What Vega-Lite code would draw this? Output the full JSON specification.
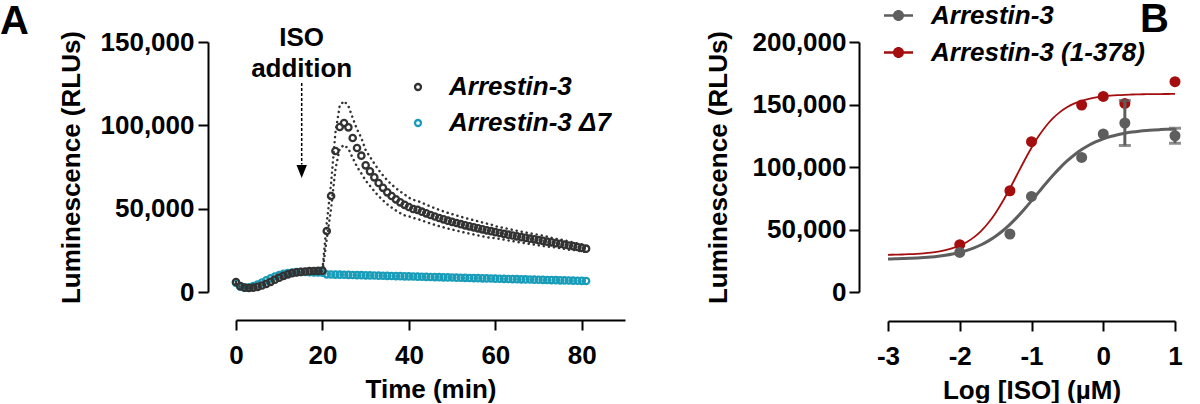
{
  "$schema": "https://vega.github.io/schema/vega-lite/v6.json",
  "background": "white",
  "padding": 0,
  "spacing": 80,
  "resolve": {"scale": {"color": "independent", "x": "independent", "y": "independent"}, "legend": {"color": "independent"}},
  "config": {
    "font": "Liberation Sans",
    "view": {"stroke": null},
    "axis": {
      "grid": false,
      "domainColor": "black",
      "domainWidth": 2,
      "tickColor": "black",
      "tickWidth": 2,
      "tickSize": 10,
      "labelFont": "Liberation Sans",
      "labelFontSize": 26,
      "labelFontWeight": "bold",
      "labelColor": "black",
      "labelFlush": false,
      "labelOverlap": false,
      "titleFont": "Liberation Sans",
      "titleFontSize": 26,
      "titleFontWeight": "bold",
      "titleColor": "black"
    },
    "legend": {
      "labelFont": "Liberation Sans",
      "labelFontSize": 26,
      "labelFontWeight": "bold",
      "labelFontStyle": "italic",
      "labelColor": "black",
      "labelLimit": 400,
      "padding": 0
    },
    "title": {"font": "Liberation Sans", "color": "black"}
  },
  "datasets": {
    "timecourse": [
      {"t":0,"s":"Arrestin-3 Δ7","v":5500},{"t":1,"s":"Arrestin-3 Δ7","v":3200},{"t":2,"s":"Arrestin-3 Δ7","v":2600},{"t":3,"s":"Arrestin-3 Δ7","v":2800},{"t":4,"s":"Arrestin-3 Δ7","v":3500},{"t":5,"s":"Arrestin-3 Δ7","v":4500},{"t":6,"s":"Arrestin-3 Δ7","v":5700},{"t":7,"s":"Arrestin-3 Δ7","v":7000},{"t":8,"s":"Arrestin-3 Δ7","v":8200},{"t":9,"s":"Arrestin-3 Δ7","v":9300},{"t":10,"s":"Arrestin-3 Δ7","v":10200},{"t":11,"s":"Arrestin-3 Δ7","v":10900},{"t":12,"s":"Arrestin-3 Δ7","v":11400},{"t":13,"s":"Arrestin-3 Δ7","v":11700},{"t":14,"s":"Arrestin-3 Δ7","v":11900},{"t":15,"s":"Arrestin-3 Δ7","v":12000},{"t":16,"s":"Arrestin-3 Δ7","v":12000},{"t":17,"s":"Arrestin-3 Δ7","v":11900},{"t":18,"s":"Arrestin-3 Δ7","v":11800},{"t":19,"s":"Arrestin-3 Δ7","v":11700},{"t":20,"s":"Arrestin-3 Δ7","v":11600},
      {"t":21,"s":"Arrestin-3 Δ7","v":10600},{"t":22,"s":"Arrestin-3 Δ7","v":10500},{"t":23,"s":"Arrestin-3 Δ7","v":10450},{"t":24,"s":"Arrestin-3 Δ7","v":10400},{"t":25,"s":"Arrestin-3 Δ7","v":10350},{"t":26,"s":"Arrestin-3 Δ7","v":10300},{"t":27,"s":"Arrestin-3 Δ7","v":10200},{"t":28,"s":"Arrestin-3 Δ7","v":10150},{"t":29,"s":"Arrestin-3 Δ7","v":10100},{"t":30,"s":"Arrestin-3 Δ7","v":10000},{"t":31,"s":"Arrestin-3 Δ7","v":9950},{"t":32,"s":"Arrestin-3 Δ7","v":9900},{"t":33,"s":"Arrestin-3 Δ7","v":9800},{"t":34,"s":"Arrestin-3 Δ7","v":9750},{"t":35,"s":"Arrestin-3 Δ7","v":9700},{"t":36,"s":"Arrestin-3 Δ7","v":9600},{"t":37,"s":"Arrestin-3 Δ7","v":9550},{"t":38,"s":"Arrestin-3 Δ7","v":9500},{"t":39,"s":"Arrestin-3 Δ7","v":9400},{"t":40,"s":"Arrestin-3 Δ7","v":9350},{"t":41,"s":"Arrestin-3 Δ7","v":9300},{"t":42,"s":"Arrestin-3 Δ7","v":9200},{"t":43,"s":"Arrestin-3 Δ7","v":9150},{"t":44,"s":"Arrestin-3 Δ7","v":9100},{"t":45,"s":"Arrestin-3 Δ7","v":9000},{"t":46,"s":"Arrestin-3 Δ7","v":8950},{"t":47,"s":"Arrestin-3 Δ7","v":8900},{"t":48,"s":"Arrestin-3 Δ7","v":8800},{"t":49,"s":"Arrestin-3 Δ7","v":8750},{"t":50,"s":"Arrestin-3 Δ7","v":8700},{"t":51,"s":"Arrestin-3 Δ7","v":8600},{"t":52,"s":"Arrestin-3 Δ7","v":8550},{"t":53,"s":"Arrestin-3 Δ7","v":8500},{"t":54,"s":"Arrestin-3 Δ7","v":8400},{"t":55,"s":"Arrestin-3 Δ7","v":8350},{"t":56,"s":"Arrestin-3 Δ7","v":8300},{"t":57,"s":"Arrestin-3 Δ7","v":8200},{"t":58,"s":"Arrestin-3 Δ7","v":8150},{"t":59,"s":"Arrestin-3 Δ7","v":8100},{"t":60,"s":"Arrestin-3 Δ7","v":8000},{"t":61,"s":"Arrestin-3 Δ7","v":7950},{"t":62,"s":"Arrestin-3 Δ7","v":7900},{"t":63,"s":"Arrestin-3 Δ7","v":7800},{"t":64,"s":"Arrestin-3 Δ7","v":7750},{"t":65,"s":"Arrestin-3 Δ7","v":7700},{"t":66,"s":"Arrestin-3 Δ7","v":7600},{"t":67,"s":"Arrestin-3 Δ7","v":7550},{"t":68,"s":"Arrestin-3 Δ7","v":7500},{"t":69,"s":"Arrestin-3 Δ7","v":7400},{"t":70,"s":"Arrestin-3 Δ7","v":7350},{"t":71,"s":"Arrestin-3 Δ7","v":7300},{"t":72,"s":"Arrestin-3 Δ7","v":7200},{"t":73,"s":"Arrestin-3 Δ7","v":7150},{"t":74,"s":"Arrestin-3 Δ7","v":7100},{"t":75,"s":"Arrestin-3 Δ7","v":7000},{"t":76,"s":"Arrestin-3 Δ7","v":6950},{"t":77,"s":"Arrestin-3 Δ7","v":6900},{"t":78,"s":"Arrestin-3 Δ7","v":6800},{"t":79,"s":"Arrestin-3 Δ7","v":6750},{"t":80,"s":"Arrestin-3 Δ7","v":6700},{"t":81,"s":"Arrestin-3 Δ7","v":6600},
      {"t":0,"s":"Arrestin-3","v":6000,"lo":5400,"hi":6600},{"t":1,"s":"Arrestin-3","v":3500,"lo":2900,"hi":4100},{"t":2,"s":"Arrestin-3","v":2600,"lo":2000,"hi":3200},{"t":3,"s":"Arrestin-3","v":2400,"lo":1800,"hi":3000},{"t":4,"s":"Arrestin-3","v":2600,"lo":2000,"hi":3200},{"t":5,"s":"Arrestin-3","v":3100,"lo":2500,"hi":3700},{"t":6,"s":"Arrestin-3","v":3900,"lo":3300,"hi":4500},{"t":7,"s":"Arrestin-3","v":4900,"lo":4300,"hi":5500},{"t":8,"s":"Arrestin-3","v":6100,"lo":5500,"hi":6700},{"t":9,"s":"Arrestin-3","v":7400,"lo":6800,"hi":8000},{"t":10,"s":"Arrestin-3","v":8600,"lo":8000,"hi":9200},{"t":11,"s":"Arrestin-3","v":9700,"lo":9100,"hi":10300},{"t":12,"s":"Arrestin-3","v":10600,"lo":10000,"hi":11200},{"t":13,"s":"Arrestin-3","v":11300,"lo":10700,"hi":11900},{"t":14,"s":"Arrestin-3","v":11800,"lo":11200,"hi":12400},{"t":15,"s":"Arrestin-3","v":12100,"lo":11500,"hi":12700},{"t":16,"s":"Arrestin-3","v":12300,"lo":11700,"hi":12900},{"t":17,"s":"Arrestin-3","v":12500,"lo":11900,"hi":13100},{"t":18,"s":"Arrestin-3","v":12600,"lo":12000,"hi":13200},{"t":19,"s":"Arrestin-3","v":12700,"lo":12100,"hi":13300},{"t":20,"s":"Arrestin-3","v":12800,"lo":12200,"hi":13400},
      {"t":21,"s":"Arrestin-3","v":36600,"lo":31840,"hi":41360},{"t":22,"s":"Arrestin-3","v":57600,"lo":50110,"hi":65090},{"t":23,"s":"Arrestin-3","v":84600,"lo":73600,"hi":95600},{"t":24,"s":"Arrestin-3","v":99000,"lo":86130,"hi":111870},{"t":25,"s":"Arrestin-3","v":101400,"lo":88220,"hi":114580},{"t":26,"s":"Arrestin-3","v":98800,"lo":85960,"hi":111640},{"t":27,"s":"Arrestin-3","v":92400,"lo":80390,"hi":104410},{"t":28,"s":"Arrestin-3","v":86400,"lo":75170,"hi":97630},{"t":29,"s":"Arrestin-3","v":81800,"lo":71170,"hi":92430},{"t":30,"s":"Arrestin-3","v":76000,"lo":66880,"hi":85120},
      {"t":31,"s":"Arrestin-3","v":72400,"lo":63710,"hi":81090},{"t":32,"s":"Arrestin-3","v":68800,"lo":60540,"hi":77060},{"t":33,"s":"Arrestin-3","v":65400,"lo":57550,"hi":73250},{"t":34,"s":"Arrestin-3","v":62500,"lo":55000,"hi":70000},{"t":35,"s":"Arrestin-3","v":59800,"lo":52620,"hi":66980},{"t":36,"s":"Arrestin-3","v":57600,"lo":50690,"hi":64510},{"t":37,"s":"Arrestin-3","v":55600,"lo":48930,"hi":62270},{"t":38,"s":"Arrestin-3","v":53800,"lo":47340,"hi":60260},{"t":39,"s":"Arrestin-3","v":52300,"lo":46020,"hi":58580},{"t":40,"s":"Arrestin-3","v":51000,"lo":45390,"hi":56610},
      {"t":41,"s":"Arrestin-3","v":49800,"lo":44320,"hi":55280},{"t":42,"s":"Arrestin-3","v":49300,"lo":43880,"hi":54720},{"t":43,"s":"Arrestin-3","v":48200,"lo":42900,"hi":53500},{"t":44,"s":"Arrestin-3","v":47200,"lo":42010,"hi":52390},{"t":45,"s":"Arrestin-3","v":46200,"lo":41120,"hi":51280},{"t":46,"s":"Arrestin-3","v":45300,"lo":40320,"hi":50280},{"t":47,"s":"Arrestin-3","v":44400,"lo":39520,"hi":49280},{"t":48,"s":"Arrestin-3","v":43600,"lo":38800,"hi":48400},{"t":49,"s":"Arrestin-3","v":42800,"lo":38090,"hi":47510},{"t":50,"s":"Arrestin-3","v":42100,"lo":37470,"hi":46730},
      {"t":51,"s":"Arrestin-3","v":41400,"lo":36850,"hi":45950},{"t":52,"s":"Arrestin-3","v":40700,"lo":36220,"hi":45180},{"t":53,"s":"Arrestin-3","v":40000,"lo":35600,"hi":44400},{"t":54,"s":"Arrestin-3","v":39400,"lo":35070,"hi":43730},{"t":55,"s":"Arrestin-3","v":38800,"lo":34530,"hi":43070},{"t":56,"s":"Arrestin-3","v":38200,"lo":34000,"hi":42400},{"t":57,"s":"Arrestin-3","v":37600,"lo":33460,"hi":41740},{"t":58,"s":"Arrestin-3","v":37000,"lo":32930,"hi":41070},{"t":59,"s":"Arrestin-3","v":36500,"lo":32480,"hi":40520},{"t":60,"s":"Arrestin-3","v":35900,"lo":32310,"hi":39490},
      {"t":61,"s":"Arrestin-3","v":35400,"lo":31860,"hi":38940},{"t":62,"s":"Arrestin-3","v":34900,"lo":31410,"hi":38390},{"t":63,"s":"Arrestin-3","v":34400,"lo":30960,"hi":37840},{"t":64,"s":"Arrestin-3","v":33900,"lo":30510,"hi":37290},{"t":65,"s":"Arrestin-3","v":33400,"lo":30060,"hi":36740},{"t":66,"s":"Arrestin-3","v":32900,"lo":29610,"hi":36190},{"t":67,"s":"Arrestin-3","v":32500,"lo":29250,"hi":35750},{"t":68,"s":"Arrestin-3","v":32000,"lo":28800,"hi":35200},{"t":69,"s":"Arrestin-3","v":31600,"lo":28440,"hi":34760},{"t":70,"s":"Arrestin-3","v":31100,"lo":27990,"hi":34210},
      {"t":71,"s":"Arrestin-3","v":30700,"lo":27630,"hi":33770},{"t":72,"s":"Arrestin-3","v":30200,"lo":27180,"hi":33220},{"t":73,"s":"Arrestin-3","v":29800,"lo":27120,"hi":32480},{"t":74,"s":"Arrestin-3","v":29300,"lo":26660,"hi":31940},{"t":75,"s":"Arrestin-3","v":28900,"lo":26300,"hi":31500},{"t":76,"s":"Arrestin-3","v":28400,"lo":25840,"hi":30960},{"t":77,"s":"Arrestin-3","v":27900,"lo":25390,"hi":30410},{"t":78,"s":"Arrestin-3","v":27500,"lo":25300,"hi":29700},{"t":79,"s":"Arrestin-3","v":27000,"lo":24840,"hi":29160},{"t":80,"s":"Arrestin-3","v":26500,"lo":24380,"hi":28620},{"t":81,"s":"Arrestin-3","v":26000,"lo":23920,"hi":28080}
    ],
    "dosePoints": [
      {"x":-2,"s":"Arrestin-3 (1-378)","v":37900},{"x":-1.301,"s":"Arrestin-3 (1-378)","v":81000},{"x":-1,"s":"Arrestin-3 (1-378)","v":120300},{"x":-0.301,"s":"Arrestin-3 (1-378)","v":149600},{"x":0,"s":"Arrestin-3 (1-378)","v":156500},{"x":0.301,"s":"Arrestin-3 (1-378)","v":150900},{"x":1,"s":"Arrestin-3 (1-378)","v":168300},
      {"x":-2,"s":"Arrestin-3","v":31700},{"x":-1.301,"s":"Arrestin-3","v":46400},{"x":-1,"s":"Arrestin-3","v":76500},{"x":-0.301,"s":"Arrestin-3","v":107700},{"x":0,"s":"Arrestin-3","v":126400},{"x":0.301,"s":"Arrestin-3","v":135200},{"x":1,"s":"Arrestin-3","v":125000}
    ],
    "doseErrors": [
      {"x":0.301,"s":"Arrestin-3","lo":117200,"hi":153200},
      {"x":1,"s":"Arrestin-3","lo":119000,"hi":131000}
    ],
    "doseCurves": [
      {"x":-3.0,"s":"Arrestin-3","f":26424},{"x":-2.9,"s":"Arrestin-3","f":26552},{"x":-2.8,"s":"Arrestin-3","f":26719},{"x":-2.7,"s":"Arrestin-3","f":26934},{"x":-2.6,"s":"Arrestin-3","f":27214},{"x":-2.5,"s":"Arrestin-3","f":27577},{"x":-2.4,"s":"Arrestin-3","f":28045},{"x":-2.3,"s":"Arrestin-3","f":28649},{"x":-2.2,"s":"Arrestin-3","f":29426},{"x":-2.1,"s":"Arrestin-3","f":30421},{"x":-2.0,"s":"Arrestin-3","f":31688},{"x":-1.9,"s":"Arrestin-3","f":33292},{"x":-1.8,"s":"Arrestin-3","f":35309},{"x":-1.7,"s":"Arrestin-3","f":37812},{"x":-1.6,"s":"Arrestin-3","f":40887},{"x":-1.5,"s":"Arrestin-3","f":44601},{"x":-1.4,"s":"Arrestin-3","f":49001},{"x":-1.3,"s":"Arrestin-3","f":54112},{"x":-1.2,"s":"Arrestin-3","f":59882},{"x":-1.1,"s":"Arrestin-3","f":66214},{"x":-1.0,"s":"Arrestin-3","f":72959},{"x":-0.9,"s":"Arrestin-3","f":79890},{"x":-0.8,"s":"Arrestin-3","f":86767},{"x":-0.7,"s":"Arrestin-3","f":93372},{"x":-0.6,"s":"Arrestin-3","f":99504},{"x":-0.5,"s":"Arrestin-3","f":105013},{"x":-0.4,"s":"Arrestin-3","f":109846},{"x":-0.3,"s":"Arrestin-3","f":113970},{"x":-0.2,"s":"Arrestin-3","f":117415},{"x":-0.1,"s":"Arrestin-3","f":120255},{"x":0.0,"s":"Arrestin-3","f":122551},{"x":0.1,"s":"Arrestin-3","f":124397},{"x":0.2,"s":"Arrestin-3","f":125857},{"x":0.3,"s":"Arrestin-3","f":127010},{"x":0.4,"s":"Arrestin-3","f":127912},{"x":0.5,"s":"Arrestin-3","f":128609},{"x":0.6,"s":"Arrestin-3","f":129158},{"x":0.7,"s":"Arrestin-3","f":129580},{"x":0.8,"s":"Arrestin-3","f":129907},{"x":0.9,"s":"Arrestin-3","f":130160},{"x":1.0,"s":"Arrestin-3","f":130354},
      {"x":-3.0,"s":"Arrestin-3 (1-378)","f":29757},{"x":-2.9,"s":"Arrestin-3 (1-378)","f":29863},{"x":-2.8,"s":"Arrestin-3 (1-378)","f":30011},{"x":-2.7,"s":"Arrestin-3 (1-378)","f":30222},{"x":-2.6,"s":"Arrestin-3 (1-378)","f":30517},{"x":-2.5,"s":"Arrestin-3 (1-378)","f":30931},{"x":-2.4,"s":"Arrestin-3 (1-378)","f":31513},{"x":-2.3,"s":"Arrestin-3 (1-378)","f":32325},{"x":-2.2,"s":"Arrestin-3 (1-378)","f":33455},{"x":-2.1,"s":"Arrestin-3 (1-378)","f":35015},{"x":-2.0,"s":"Arrestin-3 (1-378)","f":37156},{"x":-1.9,"s":"Arrestin-3 (1-378)","f":40057},{"x":-1.8,"s":"Arrestin-3 (1-378)","f":43925},{"x":-1.7,"s":"Arrestin-3 (1-378)","f":48977},{"x":-1.6,"s":"Arrestin-3 (1-378)","f":55398},{"x":-1.5,"s":"Arrestin-3 (1-378)","f":63288},{"x":-1.4,"s":"Arrestin-3 (1-378)","f":72572},{"x":-1.3,"s":"Arrestin-3 (1-378)","f":82960},{"x":-1.2,"s":"Arrestin-3 (1-378)","f":94000},{"x":-1.1,"s":"Arrestin-3 (1-378)","f":105031},{"x":-1.0,"s":"Arrestin-3 (1-378)","f":115435},{"x":-0.9,"s":"Arrestin-3 (1-378)","f":124718},{"x":-0.8,"s":"Arrestin-3 (1-378)","f":132600},{"x":-0.7,"s":"Arrestin-3 (1-378)","f":139027},{"x":-0.6,"s":"Arrestin-3 (1-378)","f":144076},{"x":-0.5,"s":"Arrestin-3 (1-378)","f":147942},{"x":-0.4,"s":"Arrestin-3 (1-378)","f":150843},{"x":-0.3,"s":"Arrestin-3 (1-378)","f":152984},{"x":-0.2,"s":"Arrestin-3 (1-378)","f":154546},{"x":-0.1,"s":"Arrestin-3 (1-378)","f":155676},{"x":0.0,"s":"Arrestin-3 (1-378)","f":156487},{"x":0.1,"s":"Arrestin-3 (1-378)","f":157069},{"x":0.2,"s":"Arrestin-3 (1-378)","f":157484},{"x":0.3,"s":"Arrestin-3 (1-378)","f":157779},{"x":0.4,"s":"Arrestin-3 (1-378)","f":157989},{"x":0.5,"s":"Arrestin-3 (1-378)","f":158137},{"x":0.6,"s":"Arrestin-3 (1-378)","f":158243},{"x":0.7,"s":"Arrestin-3 (1-378)","f":158318},{"x":0.8,"s":"Arrestin-3 (1-378)","f":158371},{"x":0.9,"s":"Arrestin-3 (1-378)","f":158409},{"x":1.0,"s":"Arrestin-3 (1-378)","f":158435}
    ]
  },
  "hconcat": [
    {
      "width": 389,
      "height": 250,
      "title": {"text": "A", "anchor": "start", "frame": "group", "fontSize": 40, "fontWeight": "bold", "dx": -236, "dy": 17, "offset": 0},
      "layer": [
        {
          "data": {"name": "timecourse"},
          "transform": [{"filter": "datum.s == 'Arrestin-3'"}],
          "mark": {"type": "line", "color": "#333333", "strokeWidth": 2.5, "strokeDash": [0.1, 5], "strokeCap": "round"},
          "encoding": {
            "x": {"field": "t", "type": "quantitative", "scale": {"domain": [0, 90], "nice": false}, "title": "Time (min)"},
            "y": {"field": "hi", "type": "quantitative", "scale": {"domain": [0, 150000], "nice": false}, "title": "Luminescence (RLUs)"}
          }
        },
        {
          "data": {"name": "timecourse"},
          "transform": [{"filter": "datum.s == 'Arrestin-3'"}],
          "mark": {"type": "line", "color": "#333333", "strokeWidth": 2.5, "strokeDash": [0.1, 5], "strokeCap": "round"},
          "encoding": {
            "x": {"field": "t", "type": "quantitative", "scale": {"domain": [0, 90], "nice": false}, "title": "Time (min)"},
            "y": {"field": "lo", "type": "quantitative", "scale": {"domain": [0, 150000], "nice": false}, "title": "Luminescence (RLUs)"}
          }
        },
        {
          "data": {"name": "timecourse"},
          "mark": {"type": "point", "filled": false, "strokeWidth": 2.3, "size": 40, "opacity": 1},
          "encoding": {
            "x": {"field": "t", "type": "quantitative", "scale": {"domain": [0, 90], "nice": false}, "title": "Time (min)",
                  "axis": {"values": [0, 20, 40, 60, 80], "offset": 28, "labelPadding": 12, "titlePadding": 8}},
            "y": {"field": "v", "type": "quantitative", "scale": {"domain": [0, 150000], "nice": false}, "title": "Luminescence (RLUs)",
                  "axis": {"values": [0, 50000, 100000, 150000], "format": ",d", "offset": 28, "labelPadding": 4, "titlePadding": 16}},
            "color": {"field": "s", "type": "nominal",
                      "scale": {"domain": ["Arrestin-3", "Arrestin-3 Δ7"], "range": ["#333333", "#1a9db8"]},
                      "legend": {"title": null, "orient": "none", "legendX": 169, "legendY": 32, "symbolType": "circle", "symbolSize": 36, "symbolStrokeWidth": 2.3, "labelOffset": 18, "rowPadding": 10}}
          }
        },
        {
          "data": {"values": [{}]},
          "mark": {"type": "text", "text": ["ISO", "addition"], "fontSize": 26, "fontWeight": "bold", "lineHeight": 31, "baseline": "alphabetic", "align": "center", "color": "black"},
          "encoding": {"x": {"datum": 15.2, "type": "quantitative"}, "y": {"datum": 147500, "type": "quantitative"}}
        },
        {
          "data": {"values": [{}]},
          "mark": {"type": "rule", "strokeDash": [3, 2], "strokeWidth": 1.5, "color": "black"},
          "encoding": {"x": {"datum": 15.2, "type": "quantitative"}, "y": {"datum": 125400, "type": "quantitative"}, "y2": {"datum": 76500}}
        },
        {
          "data": {"values": [{}]},
          "mark": {"type": "point", "shape": "M0,1L-0.8,-1L0.8,-1Z", "filled": true, "size": 169, "color": "black", "opacity": 1},
          "encoding": {"x": {"datum": 15.2, "type": "quantitative"}, "y": {"datum": 72300, "type": "quantitative"}}
        }
      ]
    },
    {
      "width": 287,
      "height": 250,
      "title": {"text": "B", "anchor": "end", "frame": "group", "fontSize": 40, "fontWeight": "bold", "dx": -6, "dy": 39, "offset": 0},
      "layer": [
        {
          "data": {"name": "doseCurves"},
          "transform": [{"filter": "datum.s == 'Arrestin-3 (1-378)'"}],
          "mark": {"type": "line", "interpolate": "monotone", "color": "#a50e0e", "strokeWidth": 1.8},
          "encoding": {
            "x": {"field": "x", "type": "quantitative", "scale": {"domain": [-3, 1], "nice": false}, "title": "Log [ISO] (µM)"},
            "y": {"field": "f", "type": "quantitative", "scale": {"domain": [0, 200000], "nice": false}, "title": "Luminescence (RLUs)"}
          }
        },
        {
          "data": {"name": "doseCurves"},
          "transform": [{"filter": "datum.s == 'Arrestin-3'"}],
          "mark": {"type": "line", "interpolate": "monotone", "color": "#5e5e5e", "strokeWidth": 3},
          "encoding": {
            "x": {"field": "x", "type": "quantitative", "scale": {"domain": [-3, 1], "nice": false}, "title": "Log [ISO] (µM)"},
            "y": {"field": "f", "type": "quantitative", "scale": {"domain": [0, 200000], "nice": false}, "title": "Luminescence (RLUs)"}
          }
        },
        {
          "data": {"name": "dosePoints"},
          "mark": {"type": "point", "filled": true, "size": 121, "opacity": 1, "strokeWidth": 0},
          "encoding": {
            "x": {"field": "x", "type": "quantitative", "scale": {"domain": [-3, 1], "nice": false}, "title": "Log [ISO] (µM)",
                  "axis": {"values": [-3, -2, -1, 0, 1], "labelExpr": "'' + datum.value", "offset": 29, "labelPadding": 12, "titlePadding": 8}},
            "y": {"field": "v", "type": "quantitative", "scale": {"domain": [0, 200000], "nice": false}, "title": "Luminescence (RLUs)",
                  "axis": {"values": [0, 50000, 100000, 150000, 200000], "format": ",d", "offset": 29, "labelPadding": 3, "titlePadding": 21}},
            "color": {"field": "s", "type": "nominal", "scale": {"domain": ["Arrestin-3", "Arrestin-3 (1-378)"], "range": ["#5e5e5e", "#a50e0e"]},
                      "legend": {"title": null, "orient": "none", "legendX": -4, "legendY": -41, "symbolType": "M-1,-0.08H1V0.08H-1Z M0.38,0A0.38,0.38,0,1,1,-0.38,0A0.38,0.38,0,1,1,0.38,0Z", "symbolSize": 841, "symbolStrokeWidth": 0, "labelOffset": 18, "rowPadding": 9}}
          }
        },
        {
          "data": {"name": "doseErrors"},
          "mark": {"type": "errorbar", "color": "#5e5e5e", "thickness": 3, "ticks": {"size": 12, "thickness": 3, "color": "#5e5e5e"}},
          "encoding": {
            "x": {"field": "x", "type": "quantitative", "scale": {"domain": [-3, 1], "nice": false}, "title": "Log [ISO] (µM)"},
            "y": {"field": "lo", "type": "quantitative", "scale": {"domain": [0, 200000], "nice": false}, "title": "Luminescence (RLUs)"},
            "y2": {"field": "hi"}
          }
        }
      ]
    }
  ]
}
